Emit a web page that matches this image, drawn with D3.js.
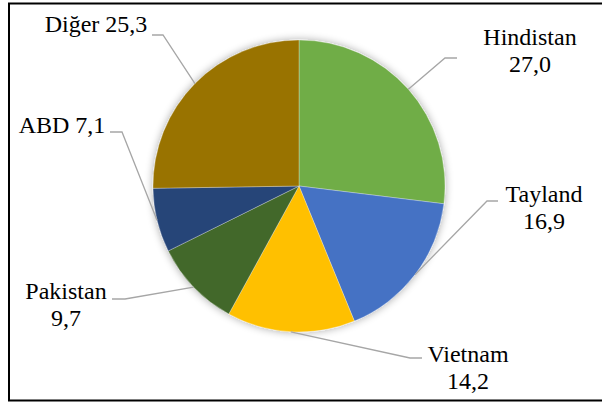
<!DOCTYPE html>
<html>
<head>
<meta charset="utf-8">
<script src="https://cdn.jsdelivr.net/npm/d3@7"></script>
</head>
<body style="margin:0;background:#fff">
<svg id="chart" width="602" height="403" style="display:block"></svg>
<script>
const categories = ["Hindistan", "Tayland", "Vietnam", "Pakistan", "ABD", "Diğer"];
const values = [27.0, 16.9, 14.2, 9.7, 7.1, 25.3];
const valueLabels = ["27,0", "16,9", "14,2", "9,7", "7,1", "25,3"];
const colors = ["#70AD47", "#4472C4", "#FFC000", "#43682B", "#264478", "#997300"];

// label layout (positions of label text and leader elbows)
const labelLayout = [
  {x: 530, y: 45, lines: 2, elbow: [445, 58], end: [457, 58]},
  {x: 544, y: 202, lines: 2, elbow: [487, 201], end: [498, 201]},
  {x: 468, y: 362, lines: 2, elbow: [410, 358], end: [422, 358]},
  {x: 66, y: 299, lines: 2, elbow: [125, 299], end: [112, 299]},
  {x: 62, y: 133, lines: 1, elbow: [122, 132], end: [110, 132]},
  {x: 96, y: 32, lines: 1, elbow: [163, 35], end: [152, 35]}
];

const svg = d3.select("#chart");
const cx = 299, cy = 186, r = 146;

// frame
svg.append("path")
  .attr("d", "M 610 3.5 H 9 V 400.5 H 610")
  .attr("fill", "none").attr("stroke", "#000").attr("stroke-width", 2);

const defs = svg.append("defs");
const f = defs.append("filter").attr("id", "sh")
  .attr("x", "-20%").attr("y", "-20%").attr("width", "140%").attr("height", "140%");
f.append("feGaussianBlur").attr("in", "SourceAlpha").attr("stdDeviation", 4).attr("result", "b");
f.append("feComponentTransfer").attr("in", "b").attr("result", "b2")
  .append("feFuncA").attr("type", "linear").attr("slope", 0.35);
const m = f.append("feMerge");
m.append("feMergeNode").attr("in", "b2");
m.append("feMergeNode").attr("in", "SourceGraphic");

const pie = d3.pie().sort(null).value(d => d)(values);
const arc = d3.arc().innerRadius(0).outerRadius(r);
const outerArc = d3.arc().innerRadius(r).outerRadius(r);

const g = svg.append("g").attr("transform", `translate(${cx},${cy})`);
const pg = g.append("g").attr("filter", "url(#sh)");
pg.selectAll("path").data(pie).join("path")
  .attr("d", arc)
  .attr("fill", (d, i) => colors[i])
  .attr("stroke", "rgba(255,255,255,0.5)")
  .attr("stroke-width", 0.6);

// leader lines
pie.forEach((d, i) => {
  const c = outerArc.centroid(d);
  const L = labelLayout[i];
  const p0 = [cx + c[0], cy + c[1]];
  svg.append("polyline")
    .attr("points", [p0, L.elbow, L.end].map(p => p.join(",")).join(" "))
    .attr("fill", "none").attr("stroke", "#A6A6A6").attr("stroke-width", 1.3);
});

// labels
labelLayout.forEach((L, i) => {
  const t = svg.append("text").attr("text-anchor", "middle")
    .attr("font-size", 24).attr("fill", "#000")
    .attr("font-family", "Liberation Serif")
    .style("font-family", "'Liberation Serif'");
  if (L.lines === 2) {
    t.append("tspan").attr("x", L.x).attr("y", L.y)
      .style("font-family", "'Liberation Serif'").text(categories[i]);
    t.append("tspan").attr("x", L.x).attr("y", L.y + 27)
      .style("font-family", "'Liberation Serif'").text(valueLabels[i]);
  } else {
    t.attr("x", L.x).attr("y", L.y).text(categories[i] + " " + valueLabels[i]);
  }
});
</script>
</body>
</html>
